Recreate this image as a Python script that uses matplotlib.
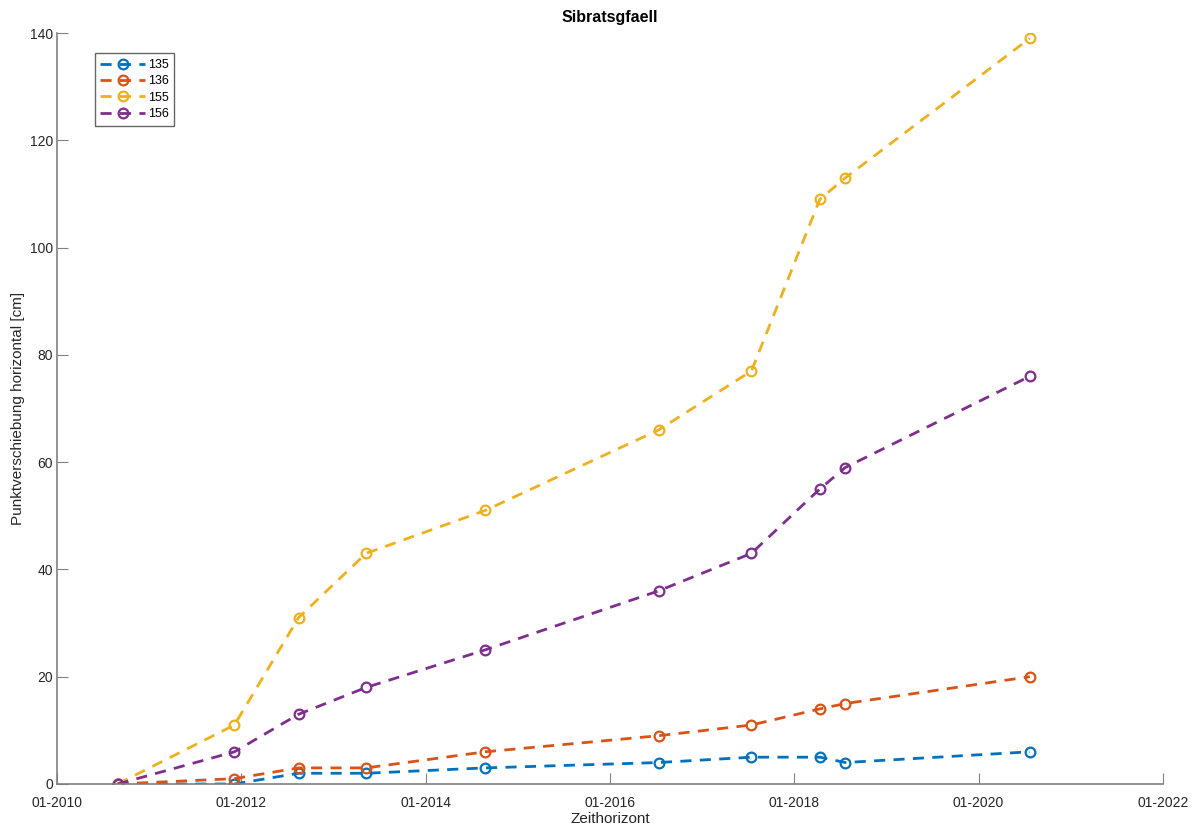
import numpy as np
import matplotlib
matplotlib.use("Agg")
import matplotlib.pyplot as plt
import matplotlib.dates as mdates

plt.rcParams['font.family'] = ['Liberation Sans', 'DejaVu Sans']

# survey epochs
dates = np.array(['2010-08-29', '2011-12-05', '2012-08-15', '2013-05-10', '2014-08-25',
                  '2016-07-12', '2017-07-15', '2018-04-12', '2018-07-22', '2020-07-22'],
                 dtype='datetime64[D]')

# horizontal displacement per point [cm]
p135 = [0, 0, 2, 2, 3, 4, 5, 5, 4, 6]
p136 = [0, 1, 3, 3, 6, 9, 11, 14, 15, 20]
p155 = [0, 11, 31, 43, 51, 66, 77, 109, 113, 139]
p156 = [0, 6, 13, 18, 25, 36, 43, 55, 59, 76]

labels = ['135', '136', '155', '156']
colors = ['#0072BD', '#D95319', '#EDB120', '#7E2F8E']

fig = plt.figure(figsize=(11.96, 8.25), dpi=100)
ax = fig.add_axes([0.0477, 0.0497, 0.9247, 0.9103])

t = dates.astype('datetime64[ms]').astype(object)
for vals, lab, c in zip([p135, p136, p155, p156], labels, colors):
    ax.plot(t, vals, '--o', color=c, lw=2, ms=7, mfc='none', mew=1.6,
            label=lab, dashes=(4, 3))

ax.set_xlim(np.datetime64('2010-01-01').astype(object), np.datetime64('2022-01-01').astype(object))
ax.set_ylim(0, 140)
ax.xaxis.set_major_locator(mdates.YearLocator(2))
ax.xaxis.set_major_formatter(mdates.DateFormatter('%m-%Y'))
ax.set_yticks(np.arange(0, 141, 20))

for s in ['top', 'right']:
    ax.spines[s].set_visible(False)
for s in ['left', 'bottom']:
    ax.spines[s].set_color('#808080')
    ax.spines[s].set_linewidth(1.2)
ax.tick_params(direction='in', length=8, color='#808080', labelcolor='#262626', labelsize=10)
ax.tick_params(axis='x', pad=9)
ax.tick_params(axis='y', pad=3)

ax.set_xlabel('Zeithorizont', fontsize=11, color='#262626', labelpad=1)
ax.set_ylabel('Punktverschiebung horizontal [cm]', fontsize=11, color='#262626', labelpad=3)
ax.set_title('Sibratsgfaell', fontsize=11.5, fontweight='bold', pad=8)

leg = ax.legend(loc='upper left', bbox_to_anchor=(0.034, 0.973), fontsize=9,
                fancybox=False, edgecolor='#404040', handlelength=3.6, borderpad=0.45,
                labelspacing=0.35, handletextpad=0.2, borderaxespad=0)
leg.get_frame().set_linewidth(1.0)

fig.savefig('out.png', dpi=100)
